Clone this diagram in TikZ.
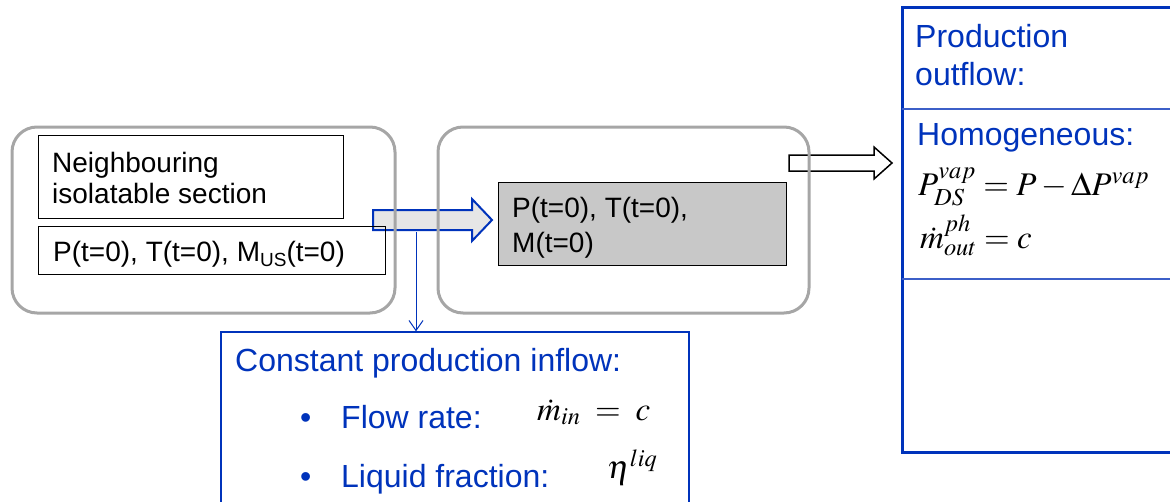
\documentclass[tikz,border=0pt]{standalone}
\usepackage{mathptmx}
\usepackage[no-math]{fontspec}
\setmainfont{Liberation Sans}
\usetikzlibrary{arrows.meta}
\definecolor{tblue}{RGB}{0,51,187}
\definecolor{lblue}{RGB}{60,95,200}
\definecolor{rgray}{RGB}{166,166,166}
\definecolor{boxgray}{RGB}{200,200,200}
\definecolor{arrowgray}{RGB}{230,230,230}
\tikzset{
  rrect/.style={draw=rgray, line width=3pt, rounded corners=25pt, inner sep=0pt},
  bbox/.style={draw=black, line width=1pt, inner sep=0pt},
  blbox/.style={draw=tblue, inner sep=0pt},
  txt/.style={anchor=base west, inner sep=0pt, font=\fontsize{28}{31}\selectfont},
  btxt/.style={anchor=base west, inner sep=0pt, text=tblue, font=\fontsize{32}{38}\selectfont},
  mtxt/.style={anchor=base west, inner sep=0pt, font=\fontsize{33}{38}\selectfont},
  fatarrow/.style={draw=tblue, fill=arrowgray, line width=2pt, line join=miter},
  outarrow/.style={draw=black, fill=white, line width=1.5pt, line join=miter},
  thinarrow/.style={draw=tblue, line width=1pt, -{Straight Barb[length=10pt,width=14pt]}}
}
\begin{document}
\begin{tikzpicture}[x=1pt,y=-1pt]
\useasboundingbox (0,0) rectangle (1170,501);
% block arrows (below the boxes)
\draw[fatarrow] (373,210) -- (472,210) -- (472,199) -- (492,220) -- (472,241) -- (472,230) -- (373,230) -- cycle;
\draw[outarrow] (789,155) -- (874,155) -- (874,147) -- (892,163) -- (874,179) -- (874,171) -- (789,171) -- cycle;
% rounded sections
\node[rrect, minimum width=383pt, minimum height=186pt] (left) at (203.5,220) {};
\node[rrect, minimum width=371pt, minimum height=186pt] (mid) at (623.5,220) {};
% inner boxes
\node[bbox, minimum width=305pt, minimum height=83pt] (nbox) at (190.5,176.5) {};
\node[bbox, minimum width=347pt, minimum height=48pt] (pbox) at (211.5,250) {};
\node[bbox, fill=boxgray, minimum width=288pt, minimum height=83pt] (gbox) at (642,223.5) {};
% right box
\node[blbox, line width=3pt, minimum width=280pt, minimum height=445pt] (rbox) at (1042,229.5) {};
\coordinate (d1) at (902,109);
\coordinate (d2) at (902,279);
\draw[lblue, line width=1.5pt] (d1) -- ++(280,0);
\draw[lblue, line width=1.5pt] (d2) -- ++(280,0);
% bottom box
\node[blbox, line width=1.3pt, minimum width=468pt, minimum height=190pt] (inbox) at (455,427) {};
% thin arrow
\coordinate (ts) at (416,232);
\draw[thinarrow] (ts) -- (ts |- inbox.north);
% texts
\node[txt] (t1) at (52,172) {Neighbouring};
\node[txt] (t2) at (52,203) {isolatable section};
\node[txt] (t3) at (53,261) {P(t=0), T(t=0), M\raisebox{-5pt}{\fontsize{19}{19}\selectfont US}(t=0)};
\node[txt] (t4) at (512,217) {P(t=0), T(t=0),};
\node[txt] (t5) at (512,252) {M(t=0)};
\node[btxt] (t6) at (915,47) {Production};
\node[btxt] (t7) at (915,85) {outflow:};
\node[btxt] (t8) at (917,145) {Homogeneous:};
\node[mtxt] (m1) at (918,195) {$P^{vap}_{DS}=P-\Delta P^{vap}$};
\node[mtxt] (m2) at (920,248) {$\dot m^{ph}_{out}=c$};
\node[btxt] (t9) at (235,371) {Constant production inflow:};
\node[btxt] (b1) at (300,428) {•};
\node[btxt] (b2) at (300,487) {•};
\node[btxt] (t10) at (341,428) {Flow rate:};
\node[btxt] (t11) at (341,487) {Liquid fraction:};
\node[mtxt] (m3) at (537,420) {$\dot m_{in}\;=\;c$};
\node[mtxt] (m4) at (607,478) {$\eta^{liq}$};
\end{tikzpicture}
\end{document}
